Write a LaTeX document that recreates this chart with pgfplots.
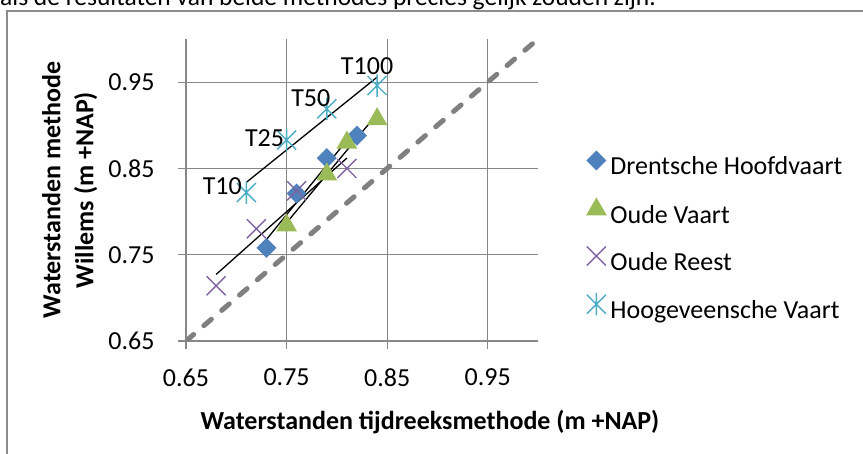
\documentclass[border=0pt]{standalone}
\usepackage{fontspec}
\setmainfont{Carlito}
\usepackage{pgfplots}
\usepackage{pgfplotstable}
\pgfplotsset{compat=1.18}

\definecolor{dhblue}{HTML}{4F81BD}
\definecolor{ovgreen}{HTML}{9BBB59}
\definecolor{orpurple}{HTML}{8064A2}
\definecolor{hvaqua}{HTML}{4BACC6}
\definecolor{gridgray}{HTML}{878787}
\definecolor{diaggray}{HTML}{808080}
\definecolor{framegray}{HTML}{8C8C8C}

\newcommand\fsz{\fontsize{26}{33}\selectfont}

\pgfdeclareplotmark{xldiamond}{%
  \pgfpathmoveto{\pgfqpoint{0pt}{\pgfplotmarksize}}%
  \pgfpathlineto{\pgfqpoint{\pgfplotmarksize}{0pt}}%
  \pgfpathlineto{\pgfqpoint{0pt}{-\pgfplotmarksize}}%
  \pgfpathlineto{\pgfqpoint{-\pgfplotmarksize}{0pt}}%
  \pgfpathclose\pgfusepathqfill}
\pgfdeclareplotmark{xltriangle}{%
  \pgfpathmoveto{\pgfqpointpolar{90}{\pgfplotmarksize}}%
  \pgfpathlineto{\pgfqpointpolar{-30}{\pgfplotmarksize}}%
  \pgfpathlineto{\pgfqpointpolar{210}{\pgfplotmarksize}}%
  \pgfpathclose\pgfusepathqfill}
\pgfdeclareplotmark{xlcross}{%
  \pgfpathmoveto{\pgfqpoint{-\pgfplotmarksize}{-\pgfplotmarksize}}%
  \pgfpathlineto{\pgfqpoint{\pgfplotmarksize}{\pgfplotmarksize}}%
  \pgfpathmoveto{\pgfqpoint{-\pgfplotmarksize}{\pgfplotmarksize}}%
  \pgfpathlineto{\pgfqpoint{\pgfplotmarksize}{-\pgfplotmarksize}}%
  \pgfusepathqstroke}
\pgfdeclareplotmark{xlstar}{%
  \pgfpathmoveto{\pgfqpoint{-\pgfplotmarksize}{-\pgfplotmarksize}}%
  \pgfpathlineto{\pgfqpoint{\pgfplotmarksize}{\pgfplotmarksize}}%
  \pgfpathmoveto{\pgfqpoint{-\pgfplotmarksize}{\pgfplotmarksize}}%
  \pgfpathlineto{\pgfqpoint{\pgfplotmarksize}{-\pgfplotmarksize}}%
  \pgfpathmoveto{\pgfqpoint{0pt}{-1.18\pgfplotmarksize}}%
  \pgfpathlineto{\pgfqpoint{0pt}{1.18\pgfplotmarksize}}%
  \pgfusepathqstroke}

\pgfplotstableread{
x y
0.73 0.758
0.76 0.821
0.79 0.862
0.82 0.888
}\tabDH
\pgfplotstableread{
x y
0.75 0.784
0.79 0.843
0.81 0.880
0.84 0.907
}\tabOV
\pgfplotstableread{
x y
0.68 0.714
0.72 0.780
0.76 0.824
0.81 0.850
}\tabOR
\pgfplotstableread{
x y label dx dy
0.71 0.822 T10 -24 6
0.75 0.883 T25 -22 2
0.79 0.919 T50 -16 11
0.84 0.946 T100 -10 19
}\tabHV
\pgfplotstableread{
x y
0.65 0.65
1.00 1.00
}\tabDiag

\begin{document}
\begin{tikzpicture}[x=1pt,y=1pt]
\useasboundingbox (0,0) rectangle (863,454);
\node[anchor=base west, inner sep=0pt, font=\fontsize{25.5}{30}\selectfont] at (0,448) {als de resultaten van beide methodes precies gelijk zouden zijn.};
\draw[framegray, line width=1.6pt] (7,-5) -- (7,443) -- (870,443);
\begin{axis}[
  at={(186pt,113pt)}, anchor=south west,
  scale only axis, width=352pt, height=302pt,
  xmin=0.65, xmax=1.0, ymin=0.65, ymax=1.0,
  axis lines*=left,
  axis line style={gridgray, line width=1.2pt},
  xtick={0.65,0.75,0.85,0.95}, ytick={0.65,0.75,0.85,0.95},
  xticklabels={0.65,0.75,0.85,0.95}, yticklabels={0.65,0.75,0.85,0.95},
  tick align=outside, major tick length=8pt,
  tick style={gridgray, line width=1.2pt},
  xtick pos=bottom, ytick pos=left,
  grid=major, major grid style={gridgray, line width=1.2pt},
  tick label style={font=\fsz},
  xticklabel style={yshift=-16pt},
  yticklabel style={xshift=-20pt},
  xlabel={Waterstanden tijdreeksmethode (m +NAP)},
  xlabel style={font=\fsz\bfseries, at={(axis description cs:0.693,-0.268)}, anchor=center},
  ylabel={Waterstanden methode\\Willems (m +NAP)},
  ylabel style={font=\fsz\bfseries, align=center, at={(axis description cs:-0.33,0.5)}, anchor=center},
  legend style={draw=none, fill=none, font=\fsz, inner sep=0pt, outer sep=0pt,
    at={(axis description cs:1.1364,0.631)}, anchor=north west,
    row sep=16.6pt,
    nodes={inner sep=0pt, text height=18pt, text depth=6pt},
    /tikz/every even column/.style={column sep=0pt}},
  legend cell align=left,
  legend image code/.code={\path[draw=none,fill=none] (-10pt,-2pt) rectangle (14pt,18pt); \draw[#1] plot coordinates {(0pt,8.4pt)};},
]
\addplot[diaggray, line width=5pt, line cap=round, dash pattern=on 10pt off 13.5pt, forget plot] table[x=x,y=y]{\tabDiag};

\addplot[only marks, color=dhblue, mark=xldiamond, mark size=10pt, mark options={fill=dhblue}] table[x=x,y=y]{\tabDH};
\addlegendentry{Drentsche Hoofdvaart}
\addplot[only marks, color=ovgreen, mark=xltriangle, mark size=12pt, mark options={fill=ovgreen}] table[x=x,y=y]{\tabOV};
\addlegendentry{Oude Vaart}
\addplot[only marks, color=orpurple, mark=xlcross, mark size=9.5pt, mark options={line width=1.4pt}] table[x=x,y=y]{\tabOR};
\addlegendentry{Oude Reest}
\addplot[only marks, color=hvaqua, mark=xlstar, mark size=9.5pt, mark options={line width=1.4pt},
  nodes near coords, point meta=explicit symbolic,
  visualization depends on={\thisrow{dx}\as\ldx},
  visualization depends on={\thisrow{dy}\as\ldy},
  nodes near coords style={anchor=center, inner sep=0pt, xshift=\ldx pt, yshift=\ldy pt, font=\fsz, text=black}]
  table[x=x,y=y,meta=label]{\tabHV};
\addlegendentry{Hoogeveensche Vaart}

\addplot[black, line width=1.3pt, forget plot] table[x=x, y={create col/linear regression={y=y}}]{\tabDH};
\addplot[black, line width=1.3pt, forget plot] table[x=x, y={create col/linear regression={y=y}}]{\tabOV};
\addplot[black, line width=1.3pt, forget plot] table[x=x, y={create col/linear regression={y=y}}]{\tabOR};
\addplot[black, line width=1.3pt, forget plot] table[x=x, y={create col/linear regression={y=y}}]{\tabHV};
\end{axis}
\end{tikzpicture}
\end{document}
